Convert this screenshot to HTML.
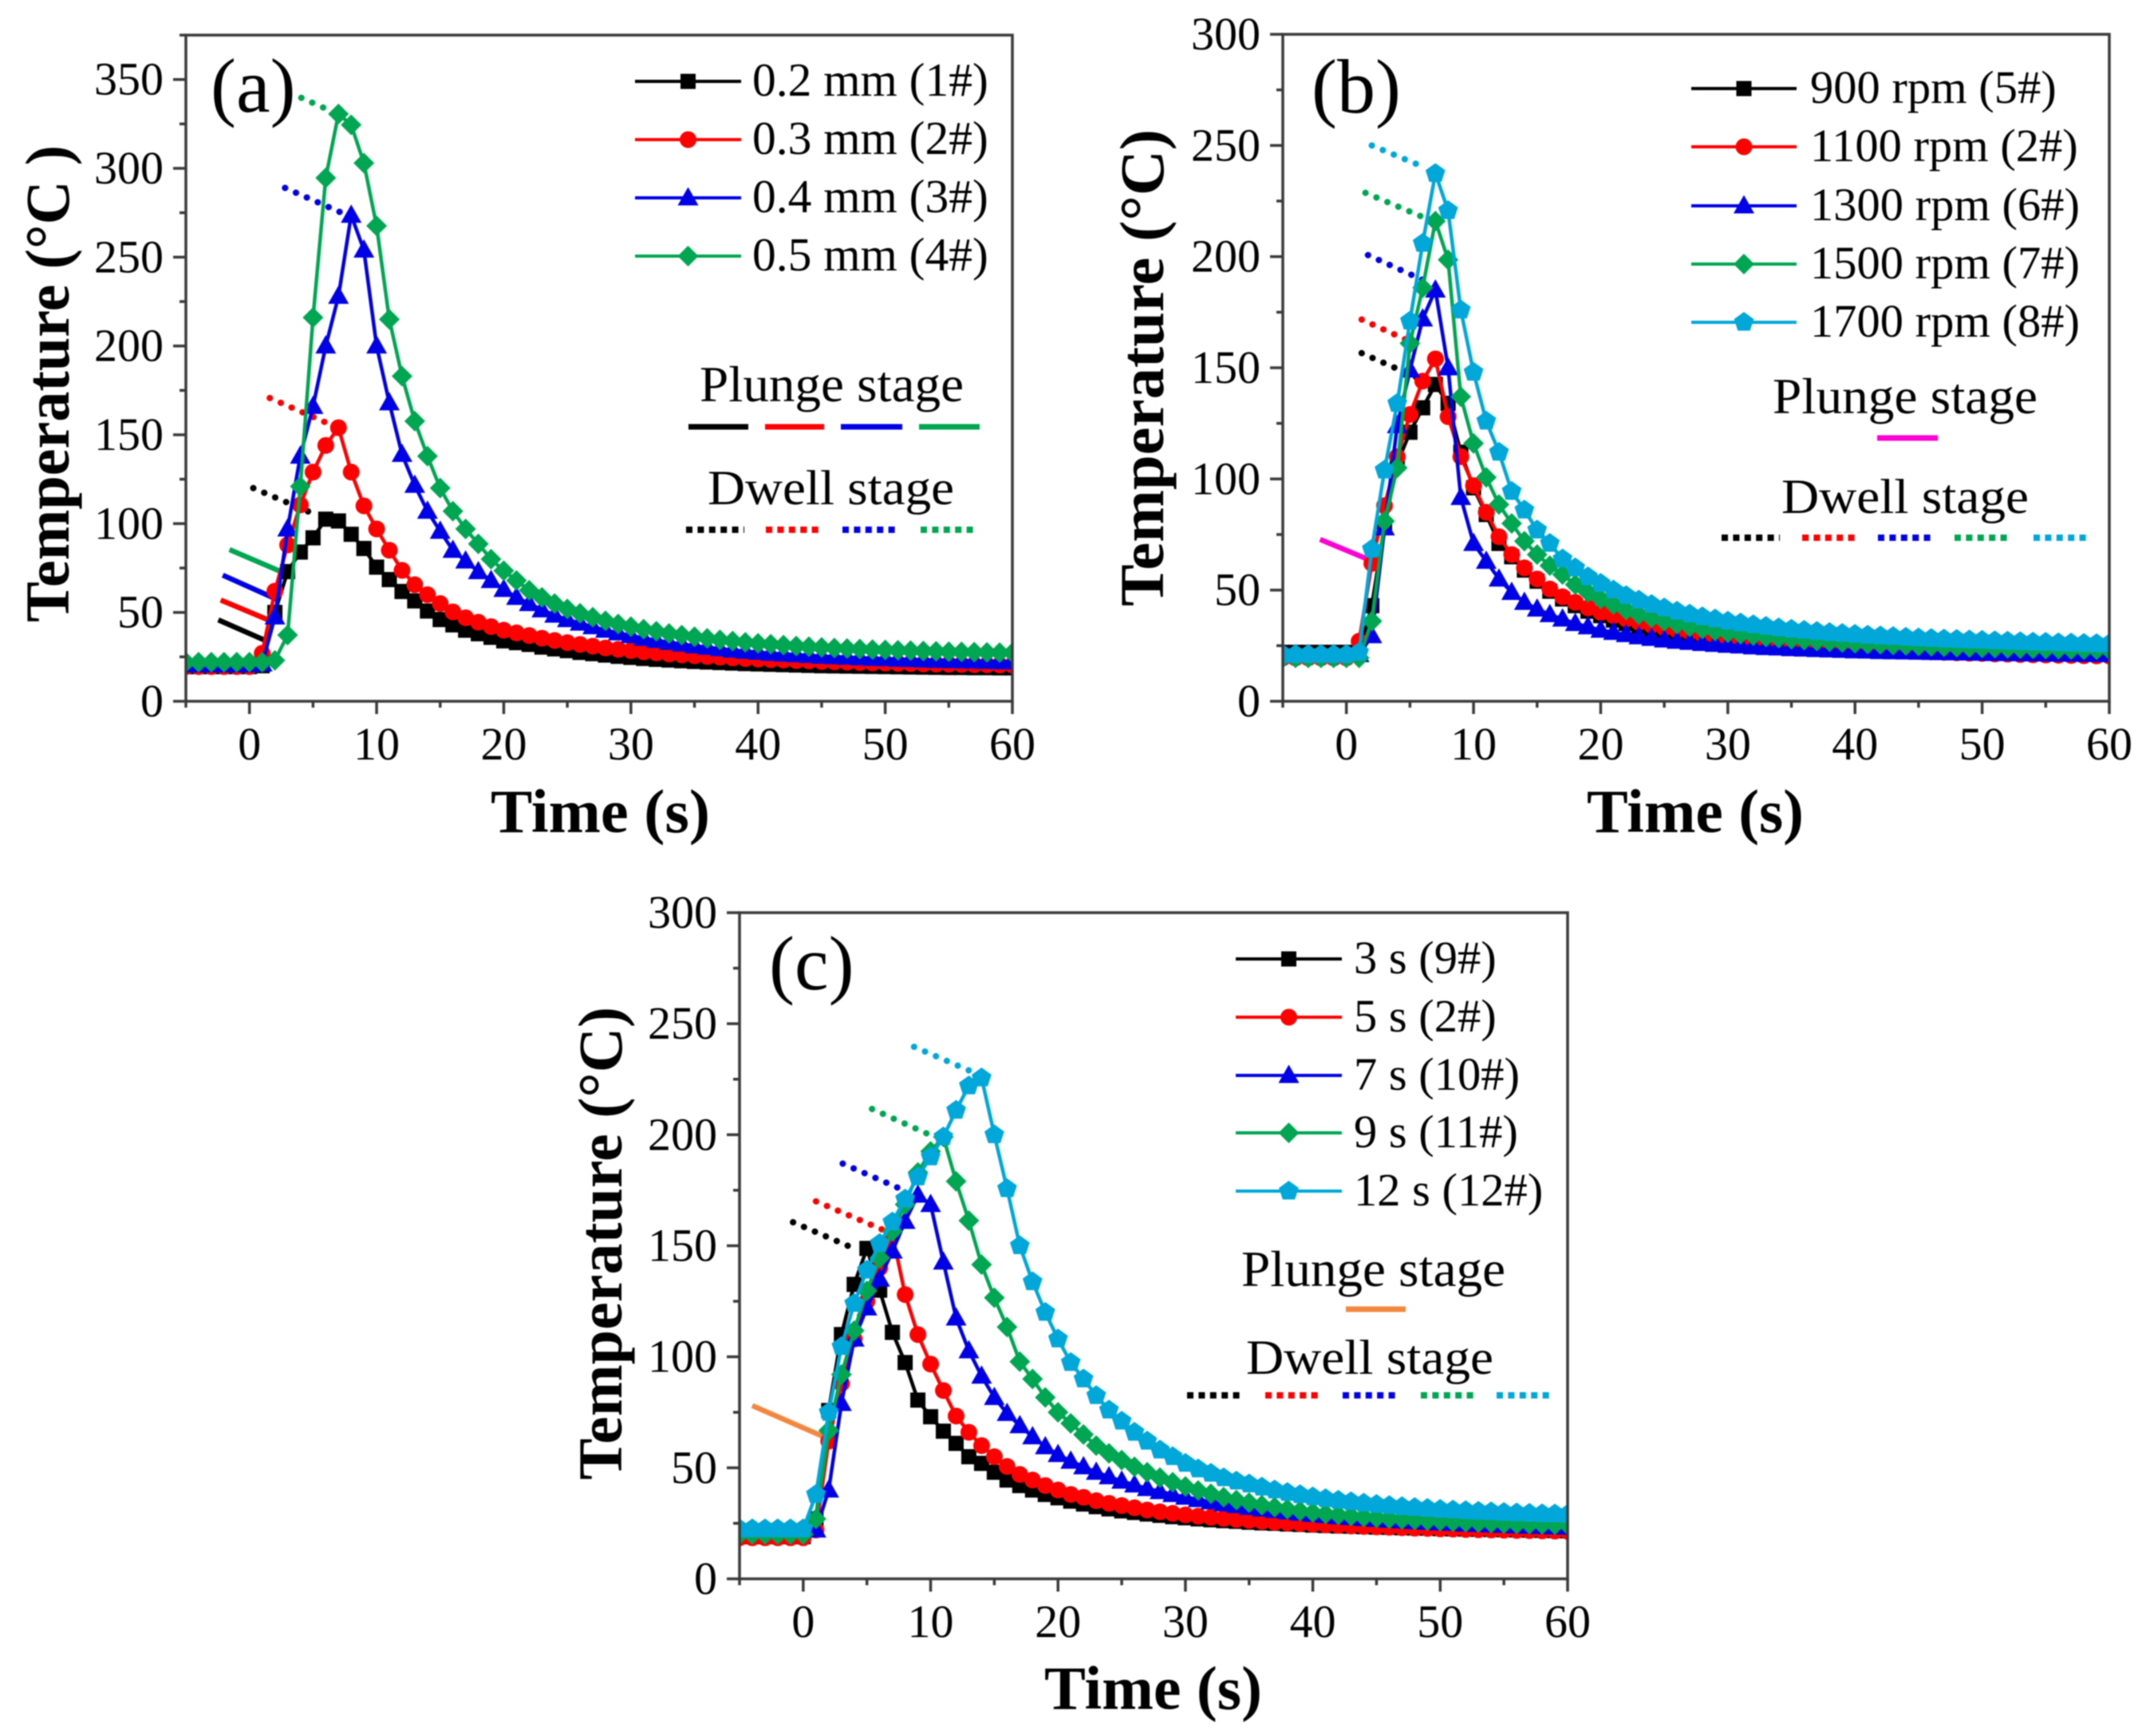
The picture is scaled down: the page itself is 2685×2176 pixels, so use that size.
<!DOCTYPE html>
<html lang="en">
<head>
<meta charset="utf-8">
<title>Temperature histories during plunge and dwell stages</title>
<style>
html,body{margin:0;padding:0;background:#fff;}
body{width:2685px;height:2176px;overflow:hidden;}
#figure{display:block;width:2685px;height:2176px;filter:blur(0.7px);}
text{font-family:"Liberation Serif",serif;fill:#000;}
</style>
</head>
<body>
<svg id="figure" xmlns="http://www.w3.org/2000/svg" width="2685" height="2176" viewBox="0 0 2685 2176"></svg>
<script>
const timeSeconds = [-5,-4,-3,-2,-1,0,1,2,3,4,5,6,7,8,9,10,11,12,13,14,15,16,17,18,19,20,21,22,23,24,25,26,27,28,29,30,31,32,33,34,35,36,37,38,39,40,41,42,43,44,45,46,47,48,49,50,51,52,53,54,55,56,57,58,59,60];

const xTickLabels = [0,10,20,30,40,50,60];
const xMinorTicks = [-5,5,15,25,35,45,55];
const yTickLabelsA = [0,50,100,150,200,250,300,350];
const yMinorTicksA = [25,75,125,175,225,275,325,375];
const yTickLabelsBC = [0,50,100,150,200,250,300];
const yMinorTicksBC = [25,75,125,175,225,275];

/* Panel (a) */
const a1 = [19.5,19.5,19.5,19.5,19.5,19.5,20,50,73,84,92,102.5,101.5,94,86,75.5,68.5,61.8,56.5,50.8,46,43,40,38,36,34,33,32,30.5,29.5,28.5,27.5,26.8,26,25.3,24.7,24.1,23.6,23.2,22.8,22.4,22.1,21.8,21.5,21.2,21,20.8,20.6,20.4,20.2,20,19.9,19.8,19.7,19.6,19.5,19.4,19.3,19.2,19.1,19,19,18.9,18.9,18.8,18.8];
const a2 = [19.5,19.5,19.5,19.5,19.5,19.5,27,62,88,110.5,129,144,154,129,110,97,85,73.7,65.6,60,55,50.3,47,44.5,42,40,38.5,37,35.5,34.2,33,32,31,30,29.2,28.5,27.8,27.2,26.6,26.1,25.6,25.2,24.8,24.4,24,23.7,23.4,23.2,22.9,22.7,22.4,22.2,22,21.8,21.6,21.5,21.3,21.2,21,20.9,20.8,20.7,20.6,20.5,20.4,20.4];
const a3 = [20.5,20.5,20.5,20.5,20.5,20.5,21,47.5,97,138,166,200,228,273.6,254,200,168,139,121.6,107,95.7,85,79,73,68,63,58.5,55,51.5,48.5,46,44,42,40,38.5,37,35.5,34.3,33.2,32.2,31.2,30.4,29.6,28.8,28.2,27.6,27,26.6,26.2,25.8,25.4,25.1,24.8,24.5,24.2,24,23.7,23.5,23.3,23.1,22.9,22.8,22.6,22.5,22.3,22.2];
const a4 = [22,22,22,22,22,22,22,23,37.3,120.9,216,294.6,330.6,324.5,303,267.6,215,183,157.7,138,120,107,97,88.6,80,73.5,68,62.5,58.5,55,52,49.5,47.3,45.3,43.5,42,40.6,39.4,38.2,37.2,36.3,35.4,34.6,33.9,33.2,32.6,32.1,31.6,31.1,30.7,30.3,30,29.7,29.4,29.1,28.9,28.7,28.5,28.3,28.1,27.9,27.8,27.7,27.5,27.4,27.3];

/* Panel (b) */
const b1 = [22,22,22,22,22,22,22,43,79,107,121,132,142.5,134,112,96,84,71,65,59,54,49.5,46,43,40.5,38.5,36.5,35,33.7,32.5,31.4,30.4,29.6,28.9,28.2,27.6,27.1,26.6,26.2,25.8,25.4,25.1,24.8,24.5,24.3,24,23.8,23.6,23.4,23.3,23.1,23,22.9,22.8,22.7,22.6,22.5,22.4,22.4,22.3,22.2,22.2,22.1,22.1,22,22];
const b2 = [19.5,19.5,19.5,19.5,19.5,19.5,27,62,88,110,129,144,154,128,110,97,85,74,66,60,55,50.5,47,44.5,42,40,38.5,37,35.5,34.2,33,32,31,30,29.2,28.5,27.8,27.2,26.6,26.1,25.6,25.2,24.8,24.4,24,23.7,23.4,23.2,22.9,22.7,22.4,22.2,22,21.8,21.6,21.5,21.3,21.2,21,20.9,20.8,20.7,20.6,20.5,20.4,20.4];
const b3 = [21,21,21,21,21,21,21,29.5,78,124,149,172,185,150,91.7,71,63,55,49,44.5,41.5,39,37,35,33.5,32,31,30,29,28.3,27.6,27,26.5,26,25.6,25.2,24.9,24.5,24.2,24,23.7,23.5,23.3,23.1,22.9,22.7,22.6,22.4,22.3,22.2,22.1,22,21.9,21.8,21.7,21.6,21.5,21.5,21.4,21.3,21.3,21.2,21.2,21.1,21.1,21];
const b4 = [19.5,19.5,19.5,19.5,19.5,19.5,19.5,36,81,105,161,186,216,198.6,137,116,100.7,88.5,80,72,66,61,57,52.5,49,46,43.5,41,39,37.5,36,34.7,33.5,32.5,31.6,30.8,30.1,29.5,28.9,28.4,27.9,27.5,27.1,26.8,26.4,26.1,25.8,25.6,25.3,25.1,24.9,24.7,24.5,24.3,24.2,24,23.9,23.8,23.7,23.6,23.5,23.4,23.3,23.2,23.2,23.1];
const b5 = [21,21,21,21,21,21,22,68.4,104,134,171,206,237.4,220.7,176,148,126,112,94.4,86,77,71,64,60,56,53,50,47.5,45.5,43.5,42,40.5,39.2,38,37,36,35.2,34.4,33.7,33,32.4,31.9,31.4,30.9,30.5,30.1,29.7,29.4,29.1,28.8,28.5,28.2,28,27.8,27.6,27.4,27.2,27,26.8,26.6,26.5,26.3,26.2,26,25.9,25.8];

/* Panel (c) */
const c1 = [19,19,19,19,19,19,27,75.8,110,132.6,148.8,130,111,97.4,80.5,73,66.5,61,55,52,48,44.5,42,40,38,36.5,35,33.7,32.5,31.5,30.6,29.9,29.2,28.6,28,27.5,27,26.6,26.2,25.9,25.5,25.2,25,24.7,24.5,24.2,24,23.8,23.7,23.5,23.3,23.2,23,22.9,22.8,22.6,22.5,22.4,22.3,22.2,22.1,22,21.9,21.8,21.7,21.6];
const c2 = [18.5,18.5,18.5,18.5,18.5,18.5,22,62,88,108,125,140,155,128,110,96.7,84.8,73.3,66,60,55,50.6,47,44.5,42,40,38,36.7,35.2,34,33,32,31,30.2,29.5,28.8,28.2,27.7,27.2,26.7,26.3,25.9,25.5,25.2,24.9,24.6,24.3,24.1,23.8,23.6,23.4,23.2,23,22.8,22.7,22.5,22.4,22.2,22.1,22,21.9,21.8,21.7,21.6,21.5,21.4];
const c3 = [22,22,22,22,22,22,22,40,79,108,122,135,147.6,161,172.8,168.6,142.7,117.5,102.7,91.3,81.7,74.5,69,64,59.5,56,53,50.5,48,46,44,42.3,40.7,39.3,38,36.8,35.7,34.7,33.8,33,32.2,31.5,30.8,30.2,29.6,29,28.5,28,27.6,27.2,26.8,26.4,26.1,25.8,25.5,25.2,25,24.7,24.5,24.3,24.1,23.9,23.7,23.6,23.4,23.3];
const c4 = [20,20,20,20,20,20,27,66.8,92,111.8,129.7,144.5,156.5,168.6,183,192.5,199,179,161.3,141.5,126.6,113.4,97.8,90,81.7,75,70,65,60,56.5,53.5,50.5,48,45.6,43.5,41.6,39.8,38.3,36.8,35.5,34.3,33.2,32.3,31.4,30.6,29.9,29.3,28.8,28.3,27.9,27.5,27.1,26.8,26.5,26.2,26,25.7,25.5,25.3,25.1,24.9,24.7,24.6,24.5,24.4,24.3];
const c5 = [22.5,22.5,22.5,22.5,22.5,22.5,38,75,104.6,124,139,151,160.7,171,181,190,199,211,222,225.6,200,175.7,150,133.8,120,108,97.4,90,82.5,76,71,66,62,58,55,52,49.5,47.5,45.5,44,42.7,41.3,40,38.9,37.9,36.9,36.1,35.4,34.7,34.1,33.5,33,32.5,32.1,31.7,31.3,31,30.7,30.4,30.2,29.9,29.7,29.5,29.3,29.2,29];

/* Stage annotation segments, in data units: t1, T1, t2, T2 */
const aPlungeLines = [[-2.45,45.8,1.57,33.2],[-2.26,57,1.9,44.5],[-2.1,71,2.4,56.6],[-1.57,85.4,3.45,70]];
const aDwellLines = [[0.3,120,4.9,106],[1.6,170.7,6.3,156],[2.8,289,7.4,274.5],[4.08,339.7,6.5,332]];
const bPlungeLines = [[-2.07,72.8,2.3,62.4]];
const bDwellLines = [[1.2,156.6,5.6,145.5],[1.2,171.7,5.7,160],[1.7,200.7,6.2,189],[1.5,228.7,6.1,217.6],[2,250,6,240.5]];
const cPlungeLines = [[-4,78,2,63]];
const cDwellLines = [[-0.8,160.6,3.7,149.5],[1,170,6.45,156.7],[3.1,187,7.6,175.7],[5.4,211.6,10,199.8],[8.7,239.6,13.2,228.5]];

const aLegendLabels = ['0.2 mm (1#)','0.3 mm (2#)','0.4 mm (3#)','0.5 mm (4#)'];
const bLegendLabels = ['900 rpm (5#)','1100 rpm (2#)','1300 rpm (6#)','1500 rpm (7#)','1700 rpm (8#)'];
const cLegendLabels = ['3 s (9#)','5 s (2#)','7 s (10#)','9 s (11#)','12 s (12#)'];

const styleBlack = {color:'#000000',shape:'square',key:'black'};
const styleRed = {color:'#ff0000',shape:'circle',key:'red'};
const styleBlue = {color:'#0000e6',shape:'triangle',key:'blue'};
const styleGreen = {color:'#00a651',shape:'diamond',key:'green'};
const styleCyan = {color:'#00a7d8',shape:'pentagon',key:'cyan'};

const NS = 'http://www.w3.org/2000/svg';
const root = document.getElementById('figure');

function make(parent, tag, attrs, text) {
  const node = document.createElementNS(NS, tag);
  for (const k in attrs) node.setAttribute(k, attrs[k]);
  if (text !== undefined) node.textContent = text;
  parent.appendChild(node);
  return node;
}

function drawMarker(parent, shape, color, cx, cy) {
  let m;
  if (shape === 'square') {
    m = make(parent, 'rect', {x:cx-9.5, y:cy-9.5, width:19, height:19, fill:color});
  } else if (shape === 'circle') {
    m = make(parent, 'circle', {cx:cx, cy:cy, r:10.5, fill:color});
  } else if (shape === 'triangle') {
    m = make(parent, 'polygon', {points:(cx)+','+(cy-13.5)+' '+(cx+13)+','+(cy+9.5)+' '+(cx-13)+','+(cy+9.5), fill:color});
  } else if (shape === 'diamond') {
    m = make(parent, 'polygon', {points:cx+','+(cy-13)+' '+(cx+13)+','+cy+' '+cx+','+(cy+13)+' '+(cx-13)+','+cy, fill:color});
  } else {
    const r = 13;
    const k = [[0,-1],[0.951,-0.309],[0.588,0.809],[-0.588,0.809],[-0.951,-0.309]];
    m = make(parent, 'polygon', {points:k.map(p => (cx+p[0]*r)+','+(cy+p[1]*r)).join(' '), fill:color});
  }
  
  
  return m;
}

function drawPanel(p) {
  const px = t => p.x0 + (t - (-5)) * (p.x1 - p.x0) / 65;
  const py = v => p.y0 - v * (p.y0 - p.y1) / p.yMax;

  const g = make(root, 'g', {});
  
  

  const clip = make(g, 'clipPath', {id:'clip-' + p.id});
  make(clip, 'rect', {x:p.x0, y:p.y1, width:p.x1-p.x0, height:p.y0-p.y1});

  /* plunge and dwell pointer lines */
  const notes = make(g, 'g', {});
  
  
  p.plungeLines.forEach((s, i) => {
    const l = make(notes, 'line', {x1:px(s[0]), y1:py(s[1]), x2:px(s[2]), y2:py(s[3]), stroke:p.plungeColors[i], 'stroke-width':6.5});
    
    
  });

  /* series */
  const plot = make(g, 'g', {'clip-path':'url(#clip-' + p.id + ')'});
  
  
  p.series.forEach((s, si) => {
    const sg = make(plot, 'g', {});
    
    
    const pts = s.values.map((v, i) => px(timeSeconds[i]) + ',' + py(v)).join(' ');
    const line = make(sg, 'polyline', {points:pts, fill:'none', stroke:s.style.color, 'stroke-width':4.5, 'stroke-linejoin':'round'});
    
    
    s.values.forEach((v, i) => drawMarker(sg, s.style.shape, s.style.color, px(timeSeconds[i]), py(v)));
  });

  p.dwellLines.forEach((s, i) => {
    const l = make(notes, 'line', {x1:px(s[0]), y1:py(s[1]), x2:px(s[2]), y2:py(s[3]), stroke:p.series[i + p.dwellOffset].style.color, 'stroke-width':8, 'stroke-linecap':'round', 'stroke-dasharray':'0.1 14.8'});
    
    
  });

  /* axes frame */
  const axes = make(g, 'g', {stroke:'#3a3a3a', 'stroke-width':3.5, fill:'none'});
  
  
  make(axes, 'rect', {x:p.x0, y:p.y1, width:p.x1-p.x0, height:p.y0-p.y1});

  p.xMajor.forEach(t => {
    const x = px(t);
    const tick = make(axes, 'line', {x1:x, y1:p.y0, x2:x, y2:p.y0+16});
    
    
    const label = make(g, 'text', {x:x, y:p.y0+73, 'font-size':58, 'text-anchor':'middle'}, String(t));
    
    
  });
  p.xMinor.forEach(t => {
    const x = px(t);
    const tick = make(axes, 'line', {x1:x, y1:p.y0, x2:x, y2:p.y0+8});
    
    
  });
  p.yMajor.forEach(v => {
    const y = py(v);
    const tick = make(axes, 'line', {x1:p.x0, y1:y, x2:p.x0-16, y2:y});
    
    
    const label = make(g, 'text', {x:p.x0-28, y:y+19, 'font-size':58, 'text-anchor':'end'}, String(v));
    
    
  });
  p.yMinor.forEach(v => {
    const y = py(v);
    const tick = make(axes, 'line', {x1:p.x0, y1:y, x2:p.x0-8, y2:y});
    
    
  });

  /* titles */
  const yt = make(g, 'text', {x:p.yTitle.x, y:p.yTitle.y, 'font-size':78, 'font-weight':'bold', textLength:p.yTitle.len, lengthAdjust:'spacingAndGlyphs', transform:'rotate(-90 ' + p.yTitle.x + ' ' + p.yTitle.y + ')'}, p.yTitle.text);
  
  
  const xt = make(g, 'text', {x:p.xTitle.x, y:p.xTitle.y, 'font-size':77, 'font-weight':'bold', textLength:p.xTitle.len, lengthAdjust:'spacingAndGlyphs'}, 'Time (s)');
  
  
  const tag = make(g, 'text', {x:p.tag.x, y:p.tag.y, 'font-size':p.tag.size}, p.tag.text);
  
  

  /* legend */
  const lg = make(g, 'g', {});
  
  
  p.labels.forEach((lab, i) => {
    const y = p.legend.ys[i];
    const st = p.series[i].style;
    const entry = make(lg, 'g', {});
    
    
    make(entry, 'line', {x1:p.legend.x1, y1:y, x2:p.legend.x2, y2:y, stroke:st.color, 'stroke-width':4});
    drawMarker(entry, st.shape, st.color, (p.legend.x1 + p.legend.x2) / 2, y);
    make(entry, 'text', {x:p.legend.tx, y:y+18, 'font-size':p.legend.size}, lab);
  });

  /* stage key */
  const key = make(g, 'g', {});
  
  
  const pl = make(key, 'text', {x:p.plunge.x, y:p.plunge.y, 'font-size':63, textLength:p.plunge.len, lengthAdjust:'spacingAndGlyphs'}, 'Plunge stage');
  
  
  p.plunge.segs.forEach((s, i) => {
    const l = make(key, 'line', {x1:s[0], y1:p.plunge.ly, x2:s[1], y2:p.plunge.ly, stroke:p.plungeColors[i], 'stroke-width':7});
    
    
  });
  const dw = make(key, 'text', {x:p.dwell.x, y:p.dwell.y, 'font-size':61, textLength:p.dwell.len, lengthAdjust:'spacingAndGlyphs'}, 'Dwell stage');
  
  
  p.dwell.segs.forEach((s, i) => {
    const l = make(key, 'line', {x1:s[0], y1:p.dwell.ly, x2:s[1], y2:p.dwell.ly, stroke:p.series[i + p.dwellOffset].style.color, 'stroke-width':8, 'stroke-dasharray':'8 6.4'});
    
    
  });
}

drawPanel({
  id:'a', x0:233, x1:1269, y0:879, y1:44, yMax:375,
  xMajor:xTickLabels, xMinor:xMinorTicks, yMajor:yTickLabelsA, yMinor:yMinorTicksA,
  series:[{values:a1,style:styleBlack},{values:a2,style:styleRed},{values:a3,style:styleBlue},{values:a4,style:styleGreen}],
  labels:aLegendLabels, dwellOffset:0,
  plungeLines:aPlungeLines, dwellLines:aDwellLines,
  plungeColors:['#000000','#ff0000','#0000e6','#00a651'],
  yTitle:{x:86,y:780,len:598,text:'Temperature (°C )'},
  xTitle:{x:615,y:1043,len:275},
  tag:{x:264,y:140,size:96,text:'(a)'},
  legend:{x1:796,x2:929,tx:943,size:59.5,ys:[102,175,248,321]},
  plunge:{x:877,y:503,len:331,ly:535,segs:[[863,938],[959,1033],[1054,1131],[1152,1228]]},
  dwell:{x:887,y:632,len:309,ly:664,segs:[[860,933],[960,1032],[1056,1127],[1154,1225]]}
});

drawPanel({
  id:'b', x0:1608, x1:2644, y0:879, y1:43, yMax:300,
  xMajor:xTickLabels, xMinor:xMinorTicks, yMajor:yTickLabelsBC, yMinor:yMinorTicksBC,
  series:[{values:b1,style:styleBlack},{values:b2,style:styleRed},{values:b3,style:styleBlue},{values:b4,style:styleGreen},{values:b5,style:styleCyan}],
  labels:bLegendLabels, dwellOffset:0,
  plungeLines:bPlungeLines, dwellLines:bDwellLines,
  plungeColors:['#ff00d4'],
  yTitle:{x:1458,y:760,len:598,text:'Temperature (°C)'},
  xTitle:{x:1989,y:1043,len:272},
  tag:{x:1644,y:141,size:96,text:'(b)'},
  legend:{x1:2120,x2:2252,tx:2269,size:58.5,ys:[111,184,258,331,404]},
  plunge:{x:2222,y:518,len:332,ly:549,segs:[[2353,2429]]},
  dwell:{x:2233,y:643,len:310,ly:674,segs:[[2158,2231],[2259,2330],[2354,2424],[2450,2521],[2549,2620]]}
});

drawPanel({
  id:'c', x0:927, x1:1965, y0:1979, y1:1144, yMax:300,
  xMajor:xTickLabels, xMinor:xMinorTicks, yMajor:yTickLabelsBC, yMinor:yMinorTicksBC,
  series:[{values:c1,style:styleBlack},{values:c2,style:styleRed},{values:c3,style:styleBlue},{values:c4,style:styleGreen},{values:c5,style:styleCyan}],
  labels:cLegendLabels, dwellOffset:0,
  plungeLines:cPlungeLines, dwellLines:cDwellLines,
  plungeColors:['#f4873f'],
  yTitle:{x:779,y:1855,len:593,text:'Temperature (°C)'},
  xTitle:{x:1309,y:2142,len:273},
  tag:{x:964,y:1240,size:96,text:'(c)'},
  legend:{x1:1549,x2:1682,tx:1697,size:58.5,ys:[1202,1275,1348,1420,1493]},
  plunge:{x:1556,y:1612,len:331,ly:1641,segs:[[1687,1762]]},
  dwell:{x:1562,y:1722,len:310,ly:1749,segs:[[1488,1559],[1586,1657],[1683,1755],[1781,1850],[1876,1947]]}
});
</script>
</body>
</html>
